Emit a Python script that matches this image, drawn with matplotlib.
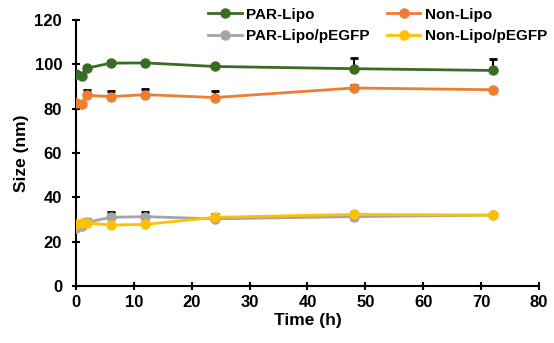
import matplotlib
import matplotlib.pyplot as plt

matplotlib.use('agg')
plt.rcParams['font.family'] = ['Liberation Sans', 'DejaVu Sans']
plt.rcParams['font.weight'] = 'bold'

# time points (h)
time_h = [0, 1, 2, 6, 12, 24, 48, 72]

# mean particle size (nm) and upper error
par_lipo = [95.5, 94.8, 98.3, 100.5, 100.6, 99.0, 98.0, 97.2]
par_lipo_err = [0, 0, 0, 1.0, 0.5, 0, 5.0, 5.0]

non_lipo = [82.5, 82.3, 86.0, 85.4, 86.3, 85.0, 89.3, 88.5]
non_lipo_err = [0, 0, 2.5, 2.5, 2.5, 3.0, 1.5, 0.5]

par_pegfp = [26.0, 27.0, 28.8, 31.0, 31.3, 30.3, 31.3, 32.0]
par_pegfp_err = [0, 0, 1.5, 2.5, 2.3, 2.0, 1.8, 0.8]

non_pegfp = [28.0, 28.3, 28.5, 27.5, 27.8, 31.0, 32.3, 32.0]
non_pegfp_err = [0, 0, 0, 0, 0, 0.8, 1.0, 0.3]

series = [
    ('PAR-Lipo', par_lipo, par_lipo_err, '#3B6C24'),
    ('Non-Lipo', non_lipo, non_lipo_err, '#ED7D31'),
    ('PAR-Lipo/pEGFP', par_pegfp, par_pegfp_err, '#A5A5A5'),
    ('Non-Lipo/pEGFP', non_pegfp, non_pegfp_err, '#FFC000'),
]

fig = plt.figure(figsize=(5.54, 3.43), dpi=100)
ax = fig.add_axes([0.137, 0.166, 0.836, 0.776])

for label, y, err, color in series:
    ax.errorbar(time_h, y, yerr=[[0] * len(err), err], fmt='none',
                ecolor='black', elinewidth=1.5, capsize=3, capthick=2, zorder=2)
handles = {}
for label, y, err, color in series:
    line, = ax.plot(time_h, y, color=color, marker='o', markersize=6.5,
                    linewidth=2, label=label, zorder=3)
    handles[label] = line

ax.set_xlim(0, 80)
ax.set_ylim(0, 120)
ax.set_xticks(range(0, 81, 10))
ax.set_yticks(range(0, 121, 20))
ax.spines['top'].set_visible(False)
ax.spines['right'].set_visible(False)
ax.spines['left'].set_linewidth(1.5)
ax.spines['bottom'].set_linewidth(1.5)
ax.tick_params(direction='inout', length=6, width=1.5, labelsize=12)
ax.tick_params(axis='y', pad=7)
for t in ax.get_xticklabels() + ax.get_yticklabels():
    t.set_fontweight('bold')

ax.set_xlabel('Time (h)', fontsize=12.5, fontweight='bold', labelpad=2)
ax.set_ylabel('Size (nm)', fontsize=12.5, fontweight='bold', labelpad=4)

# row-wise legend order
order = ['PAR-Lipo', 'PAR-Lipo/pEGFP', 'Non-Lipo', 'Non-Lipo/pEGFP']
leg = fig.legend([handles[k] for k in order], order, ncol=2, loc='upper left',
                 bbox_to_anchor=(0.376, 0.978), frameon=False, fontsize=11,
                 handlelength=2.2, handletextpad=0.3, columnspacing=1.1,
                 labelspacing=0.5, borderpad=0, borderaxespad=0)
for t in leg.get_texts():
    t.set_fontweight('bold')

fig.savefig('out.png', dpi=100)
plt.close()
